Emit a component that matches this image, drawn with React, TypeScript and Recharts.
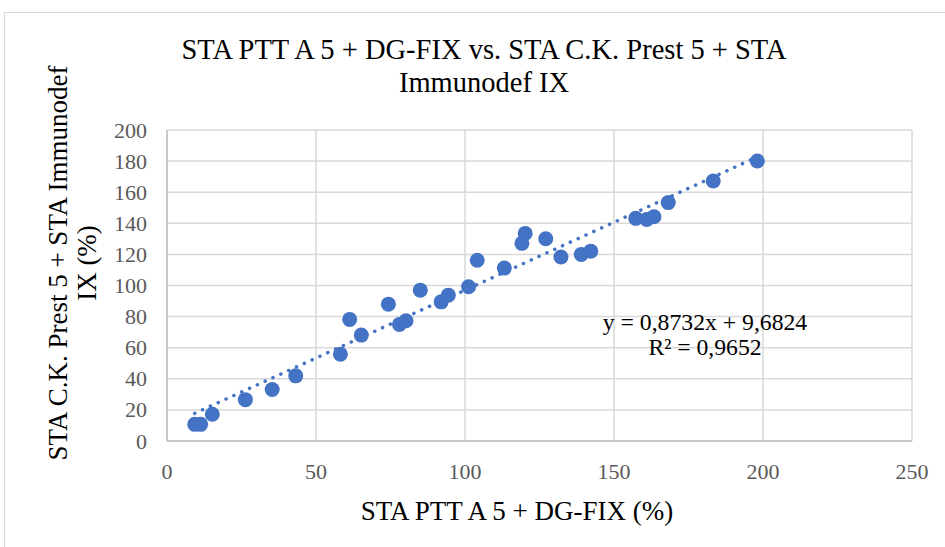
import React from "react";
import { ScatterChart, Scatter, XAxis, YAxis, CartesianGrid } from "recharts";

const xValues = [9.3, 11.3, 15.2, 26.3, 35.3, 43.2, 58.2, 61.3, 65.2, 74.3, 78, 80.2, 85, 92, 94.4, 101.2, 104.1, 113.2, 119.1, 120.2, 127.1, 132.2, 139, 142.2, 157.3, 161, 163.4, 168.2, 183.3, 198.1];
const yValues = [10.7, 10.7, 17.2, 26.6, 33.1, 41.9, 55.8, 78.2, 68.1, 88, 75, 77.3, 97, 89.5, 93.8, 99.2, 116.2, 111.2, 127.1, 133.5, 130.1, 118.3, 120, 122.1, 143.2, 142.4, 144.2, 153.3, 167.2, 180.1];
const xTicks = [0, 50, 100, 150, 200, 250];
const yTicks = [0, 20, 40, 60, 80, 100, 120, 140, 160, 180, 200];
const slope = 0.8732;
const intercept = 9.6824;

const points = xValues.map((x, i) => ({ x, y: yValues[i] }));
const xMin = Math.min(...xValues);
const xMax = Math.max(...xValues);
const trend = [
  { x: xMin, y: slope * xMin + intercept },
  { x: xMax, y: slope * xMax + intercept },
];

const FONT = "Liberation Serif";
const BLUE = "#4472C4";

const Dot = (props: any) => <circle cx={props.cx} cy={props.cy} r={7.5} fill={BLUE} />;

const XTick = (props: any) => (
  <text x={props.x} y={props.y} dy={15} textAnchor="middle" fontFamily={FONT} fontSize={22} fill="#595959">
    {props.payload.value}
  </text>
);
const YTick = (props: any) => (
  <text x={props.x} y={props.y} dy={7.5} textAnchor="end" fontFamily={FONT} fontSize={22} fill="#595959">
    {props.payload.value}
  </text>
);

export default function App() {
  return (
    <div style={{ position: "absolute", left: 0, top: 0, width: 945, height: 547, overflow: "hidden", background: "#fff", fontFamily: FONT }}>
      <div style={{ position: "absolute", left: 4, top: 12, width: 1000, height: 600, border: "1px solid #d9d9d9", boxSizing: "border-box" }} />
      <ScatterChart width={945} height={547} margin={{ top: 130, right: 33, bottom: 66, left: 107 }}>
        <CartesianGrid stroke="#d9d9d9" strokeWidth={1.5} />
        <XAxis
          type="number"
          dataKey="x"
          domain={[0, 250]}
          ticks={xTicks}
          height={40}
          tickLine={false}
          tickMargin={17}
          axisLine={{ stroke: "#bfbfbf", strokeWidth: 1.5 }}
          tick={<XTick />}
          allowDataOverflow
        />
        <YAxis
          type="number"
          dataKey="y"
          domain={[0, 200]}
          ticks={yTicks}
          width={60}
          tickLine={false}
          tickMargin={14}
          axisLine={{ stroke: "#bfbfbf", strokeWidth: 1.5 }}
          tick={<YTick />}
          allowDataOverflow
        />
        <Scatter data={points} shape={Dot} isAnimationActive={false} />
        <Scatter
          data={trend}
          shape={() => <g />}
          line={{ stroke: BLUE, strokeWidth: 3.5, strokeDasharray: "0.1 8.5", strokeLinecap: "round" } as any}
          isAnimationActive={false}
        />
      </ScatterChart>
      <div style={{ position: "absolute", left: 84, top: 33, width: 800, textAlign: "center", fontSize: 28.5, lineHeight: "33px", color: "#000" }}>
        STA PTT A 5 + DG-FIX vs. STA C.K. Prest 5 + STA
        <br />
        Immunodef IX
      </div>
      <div style={{ position: "absolute", left: 217, top: 496, width: 600, textAlign: "center", fontSize: 27, lineHeight: "30px", color: "#000" }}>
        STA PTT A 5 + DG-FIX (%)
      </div>
      <div style={{ position: "absolute", left: 72.5 - 250, top: 263 - 29, width: 500, height: 58, textAlign: "center", fontSize: 27, lineHeight: "29px", color: "#000", transform: "rotate(-90deg)", transformOrigin: "50% 50%" }}>
        STA C.K. Prest 5 + STA Immunodef
        <br />
        IX (%)
      </div>
      <div style={{ position: "absolute", left: 555, top: 310, width: 300, textAlign: "center", fontSize: 23.7, lineHeight: "25px", color: "#000" }}>
        y = 0,8732x + 9,6824
        <br />
        R² = 0,9652
      </div>
    </div>
  );
}
